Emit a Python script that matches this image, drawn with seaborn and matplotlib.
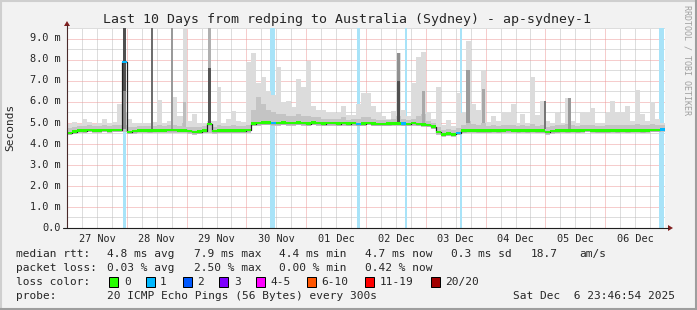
import numpy as np
import matplotlib
matplotlib.use("Agg")
import matplotlib.pyplot as plt
import seaborn as sns
from matplotlib.patches import Rectangle, Polygon
from matplotlib.lines import Line2D

# ---------------- data ----------------
# 2-hour bins starting 27 Nov 00:00, 12 bins per day, 10 days
median = [
    4.52, 4.58, 4.64, 4.62, 4.66, 4.64, 4.64, 4.66, 4.64, 4.66, 4.66, 7.88,
    4.57, 4.60, 4.64, 4.64, 4.63, 4.64, 4.64, 4.64, 4.65, 4.65, 4.64, 4.64,
    4.60, 4.55, 4.58, 4.62, 4.95, 4.60, 4.62, 4.62, 4.62, 4.62, 4.62, 4.62,
    4.65, 4.96, 4.98, 5.00, 5.00, 4.98, 4.98, 5.00, 4.98, 4.98, 5.00, 4.98,
    4.96, 5.00, 4.98, 4.96, 4.98, 4.98, 4.96, 4.98, 4.96, 4.98, 4.95, 4.96,
    4.99, 4.96, 4.95, 4.95, 4.96, 4.97, 4.97, 4.96, 4.95, 4.98, 4.95, 4.92,
    4.90, 4.82, 4.55, 4.45, 4.48, 4.45, 4.52, 4.62, 4.64, 4.64, 4.62, 4.63,
    4.62, 4.64, 4.62, 4.64, 4.65, 4.64, 4.62, 4.64, 4.62, 4.64, 4.62, 4.62,
    4.55, 4.60, 4.62, 4.64, 4.62, 4.64, 4.63, 4.64, 4.66, 4.64, 4.62, 4.62,
    4.62, 4.64, 4.62, 4.64, 4.62, 4.64, 4.64, 4.62, 4.64, 4.66, 4.66, 4.68,
]
smoke_hi = [
    4.95, 5.04, 4.95, 5.20, 5.05, 4.95, 4.98, 5.17, 4.98, 5.04, 5.88, 5.50,
    5.17, 4.98, 4.98, 5.00, 5.00, 5.05, 6.07, 5.00, 5.10, 6.22, 5.30, 5.30,
    5.10, 5.40, 5.00, 5.00, 5.10, 5.10, 6.70, 5.00, 5.20, 5.55, 5.10, 5.04,
    7.88, 8.30, 6.90, 7.15, 6.50, 6.30, 7.65, 6.00, 6.05, 5.75, 7.10, 6.70,
    7.95, 5.80, 5.60, 5.60, 5.45, 5.45, 5.45, 5.80, 5.35, 5.35, 5.90, 6.40,
    6.40, 5.80, 5.45, 5.30, 5.20, 5.55, 8.30, 5.60, 5.30, 6.87, 8.10, 8.36,
    5.50, 5.20, 6.70, 4.90, 5.15, 4.85, 6.40, 5.45, 8.90, 5.90, 5.60, 7.50,
    5.05, 5.30, 5.10, 5.50, 5.45, 5.90, 5.00, 5.40, 5.00, 7.15, 5.35, 6.05,
    5.10, 5.00, 5.50, 5.00, 6.18, 5.10, 5.00, 5.50, 5.45, 5.70, 5.00, 5.00,
    5.45, 6.05, 5.50, 5.50, 5.80, 5.10, 6.54, 5.40, 5.10, 6.00, 5.20, 5.00,
]
smoke_mid = [
    4.75, 4.80, 4.85, 4.85, 4.88, 4.85, 4.85, 4.88, 4.85, 4.88, 4.90, 4.90,
    4.80, 4.82, 4.85, 4.85, 4.85, 4.85, 4.88, 4.85, 4.88, 4.88, 4.85, 5.00,
    4.82, 4.78, 4.80, 4.85, 5.00, 4.82, 4.90, 4.85, 4.85, 4.90, 4.85, 4.85,
    4.90, 5.60, 6.20, 5.90, 5.60, 5.50, 5.40, 5.40, 5.30, 5.30, 5.40, 5.30,
    5.30, 5.25, 5.25, 5.20, 5.20, 5.20, 5.20, 5.25, 5.15, 5.20, 5.20, 5.25,
    5.25, 5.20, 5.15, 5.15, 5.15, 5.20, 5.30, 5.20, 5.15, 5.20, 5.30, 5.40,
    5.10, 5.00, 4.80, 4.65, 4.70, 4.65, 4.75, 4.90, 5.10, 4.95, 4.90, 5.00,
    4.85, 4.90, 4.85, 4.90, 4.90, 4.90, 4.85, 4.90, 4.85, 4.95, 4.85, 4.90,
    4.80, 4.85, 4.90, 4.88, 4.92, 4.88, 4.85, 4.90, 4.90, 4.90, 4.85, 4.85,
    4.88, 4.90, 4.88, 4.90, 4.90, 4.88, 4.92, 4.88, 4.88, 4.92, 4.90, 4.88,
]
smoke_lo = [
    4.40, 4.46, 4.52, 4.50, 4.54, 4.52, 4.52, 4.54, 4.52, 4.54, 4.54, 4.55,
    4.45, 4.48, 4.52, 4.52, 4.51, 4.52, 4.52, 4.52, 4.53, 4.53, 4.52, 4.52,
    4.48, 4.43, 4.46, 4.50, 4.50, 4.48, 4.50, 4.50, 4.50, 4.50, 4.50, 4.50,
    4.53, 4.84, 4.86, 4.88, 4.88, 4.86, 4.86, 4.88, 4.86, 4.86, 4.88, 4.86,
    4.84, 4.88, 4.86, 4.84, 4.86, 4.86, 4.84, 4.86, 4.84, 4.86, 4.83, 4.84,
    4.87, 4.84, 4.83, 4.83, 4.84, 4.85, 4.85, 4.84, 4.83, 4.86, 4.83, 4.80,
    4.78, 4.70, 4.43, 4.33, 4.36, 4.33, 4.40, 4.50, 4.52, 4.52, 4.50, 4.51,
    4.50, 4.52, 4.50, 4.52, 4.53, 4.52, 4.50, 4.52, 4.50, 4.52, 4.50, 4.50,
    4.43, 4.48, 4.50, 4.52, 4.50, 4.52, 4.51, 4.52, 4.54, 4.52, 4.50, 4.50,
    4.50, 4.52, 4.50, 4.52, 4.50, 4.52, 4.52, 4.50, 4.52, 4.54, 4.54, 4.56,
]
loss_bins = [11, 41, 58, 67, 78, 119]          # bins with 1/20 loss
loss_band_start = [0.933, 3.400, 4.850, 5.650, 6.567, 9.900]   # days
loss_band_width = [0.050, 0.083, 0.042, 0.037, 0.040, 0.083]

# narrow smoke spikes: day, width (days), bottom, top (ms), shade
spike_day   = [0.933, 0.933, 1.400, 1.733, 1.933, 1.933, 2.350, 2.350,
               5.517, 5.517, 5.933, 6.667, 6.933, 7.983, 8.383]
spike_width = [0.050, 0.050, 0.033, 0.033, 0.067, 0.050, 0.050, 0.050,
               0.050, 0.050, 0.050, 0.067, 0.050, 0.033, 0.050]
spike_lo    = [4.70, 6.50, 4.70, 4.70, 4.80, 4.80, 5.00, 7.60,
               5.00, 7.00, 5.00, 5.00, 5.00, 4.70, 4.70]
spike_hi    = [6.50, 9.48, 9.48, 9.48, 9.48, 6.00, 7.60, 9.48,
               7.00, 8.30, 6.50, 7.50, 6.60, 6.05, 6.18]
spike_shade = ["#8a8a8a", "#505050", "#6e6e6e", "#9a9a9a", "#dcdcdc", "#bdbdbd",
               "#555555", "#b0b0b0", "#505050", "#909090", "#aaaaaa", "#9c9c9c",
               "#a8a8a8", "#777777", "#999999"]

day_labels = ["27 Nov", "28 Nov", "29 Nov", "30 Nov", "01 Dec",
              "02 Dec", "03 Dec", "04 Dec", "05 Dec", "06 Dec"]
ytick_vals = [0, 1, 2, 3, 4, 5, 6, 7, 8, 9]
ytick_labels = ["0.0", "1.0 m", "2.0 m", "3.0 m", "4.0 m",
                "5.0 m", "6.0 m", "7.0 m", "8.0 m", "9.0 m"]

loss_names = ["0", "1", "2", "3", "4-5", "6-10", "11-19", "20/20"]
loss_colors = ["#26ff00", "#00b8ff", "#0059ff", "#7e00ff",
               "#ff00ff", "#ff5500", "#ff0000", "#a10000"]

title = "Last 10 Days from redping to Australia (Sydney) - ap-sydney-1"
# ---------------- style ----------------
sns.set_style("white")
plt.rcParams["font.family"] = ["DejaVu Sans Mono", "DejaVu Sans"]

W, H = 697, 310
BG = "#f2f2f2"
GRID = "#bcbcbc"
MGRID = "#ef9a9a"
ARROW = "#801f1f"
AXIS = "#1f1f1f"

fig = plt.figure(figsize=(W / 100, H / 100), dpi=100)
fig.patch.set_facecolor(BG)

def fx(x):
    return x / W

def fy(y):
    return 1 - y / H

# plot area in pixels: x 67..665, y 28..228
ax = fig.add_axes([fx(67), fy(228), (665 - 67) / W, (228 - 28) / H])
ax.set_facecolor("white")
ymax = (228 - 28) / 21.1
ax.set_xlim(1 / 60, 599 / 60)
ax.set_ylim(0, ymax)

nb = len(median)
bin_days = 1 / 12
edges = np.arange(nb + 1) * bin_days
left = edges[:-1]

# grid (dotted, 1px on / 1px off)
ax.set_xticks(np.arange(1, 10))
ax.set_xticks(np.arange(0, 10.01, 0.25), minor=True)
ax.set_yticks(ytick_vals)
ax.set_yticks(np.arange(0.5, 9.6, 1.0), minor=True)
ax.grid(which="major", color=MGRID, lw=0.72, ls=(0, (1, 1)), zorder=0)
ax.grid(which="minor", color=GRID, lw=0.72, ls=(0, (1, 1)), zorder=0)
ax.set_axisbelow(True)
ax.tick_params(which="both", labelleft=False, labelbottom=False,
               direction="inout", length=3.0, width=0.72)
ax.tick_params(which="major", color="#dd5050")
ax.tick_params(which="minor", color="#909090")
for s in ax.spines.values():
    s.set_visible(False)

# loss background bars
for d, w in zip(loss_band_start, loss_band_width):
    ax.axvspan(d, d + w, color="#a8e3f8", lw=0, zorder=1)

# smoke
ax.stairs(smoke_hi, edges, baseline=smoke_lo, fill=True, color="#dcdcdc", lw=0, zorder=2)
ax.stairs(smoke_mid, edges, baseline=smoke_lo, fill=True, color="#c4c4c4", lw=0, zorder=2.1)
ax.bar(spike_day, np.array(spike_hi) - np.array(spike_lo), width=spike_width,
       bottom=spike_lo, align="edge", color=spike_shade, lw=0, zorder=2.5)

# median: black step line + loss coloured band
xs = list(edges)
ys = list(median) + [median[-1]]
sns.lineplot(x=xs, y=ys, ax=ax, drawstyle="steps-post", color="#202020",
             lw=0.9, estimator=None, sort=False, zorder=3)
band = 0.12
band_cols = [loss_colors[1] if i in loss_bins else loss_colors[0] for i in range(nb)]
ax.bar(left, band, width=bin_days, bottom=np.array(median) - band / 2,
       align="edge", color=band_cols, lw=0, zorder=4)
ax.set_xlabel("")
ax.set_ylabel("")

# axes lines and arrows (figure pixels)
fig.add_artist(Line2D([fx(67), fx(67)], [fy(228), fy(25)], color="#4a2a2a", lw=0.8))
fig.add_artist(Line2D([fx(63), fx(668)], [fy(228), fy(228)], color=AXIS, lw=0.8))
fig.add_artist(Polygon([(fx(64), fy(26)), (fx(70), fy(26)), (fx(67), fy(21))],
                       closed=True, color=ARROW, lw=0))
fig.add_artist(Polygon([(fx(668), fy(225)), (fx(668), fy(231)), (fx(673), fy(228))],
                       closed=True, color=ARROW, lw=0))

# tick labels (rrdtool right-pads the unit; zero has no unit)
TICK_FS = 7.4
cw = 0.602 * TICK_FS * 100 / 72
for v, lab in zip(ytick_vals, ytick_labels):
    ypx = 228 - v * 21.1
    xpx = 30 + (5 - len(lab)) * cw
    fig.text(fx(xpx), fy(ypx), lab, fontsize=TICK_FS, ha="left", va="center")
for i, lab in enumerate(day_labels):
    x_disp = ax.transData.transform((i + 0.5, 0))[0]
    fig.text(x_disp / W, fy(238.5), lab, fontsize=TICK_FS, ha="center", va="center")

# title, y label, watermark
fig.text(fx(347), fy(19), title, fontsize=9.5, ha="center", va="center")
fig.text(fx(10.5), fy(127), "Seconds", fontsize=8, rotation=90, ha="center", va="center")
fig.text(fx(687), fy(60), "RRDTOOL / TOBI OETIKER", fontsize=6, rotation=270,
         ha="center", va="center", color="#a0a0a0")

# legend rows
LFS = 8
rows = [
    (254, [(16, "median rtt:"), (107, "4.8 ms avg"), (194, "7.9 ms max"),
           (279, "4.4 ms min"), (365, "4.7 ms now"), (451, "0.3 ms sd"),
           (531, "18.7"), (579, "am/s")]),
    (268, [(16, "packet loss:"), (107, "0.03 % avg"), (194, "2.50 % max"),
           (279, "0.00 % min"), (365, "0.42 % now")]),
    (282, [(16, "loss color:")]),
    (296, [(16, "probe:"), (107, "20 ICMP Echo Pings (56 Bytes) every 300s"),
           (513, "Sat Dec  6 23:46:54 2025")]),
]
for ypx, items in rows:
    for xpx, s in items:
        fig.text(fx(xpx), fy(ypx), s, fontsize=LFS, ha="left", va="center")

box_x = [109, 146, 183, 219, 256, 307, 365, 431]
lab_x = [124, 160, 197, 234, 270, 321, 380, 445]
for bx, lx, name, col in zip(box_x, lab_x, loss_names, loss_colors):
    fig.add_artist(Rectangle((fx(bx), fy(287)), 9 / W, 10 / H, facecolor=col,
                             edgecolor="black", lw=0.72, transform=fig.transFigure))
    fig.text(fx(lx), fy(282), name, fontsize=LFS, ha="left", va="center")

# 3D border
fig.add_artist(Line2D([0, 1], [fy(1), fy(1)], color="#cfcfcf", lw=1.5))
fig.add_artist(Line2D([fx(1), fx(1)], [0, 1], color="#cfcfcf", lw=1.5))
fig.add_artist(Line2D([0, 1], [fy(309), fy(309)], color="#9e9e9e", lw=1.5))
fig.add_artist(Line2D([fx(696), fx(696)], [0, 1], color="#9e9e9e", lw=1.5))

fig.savefig("out.png", dpi=100, facecolor=BG)
